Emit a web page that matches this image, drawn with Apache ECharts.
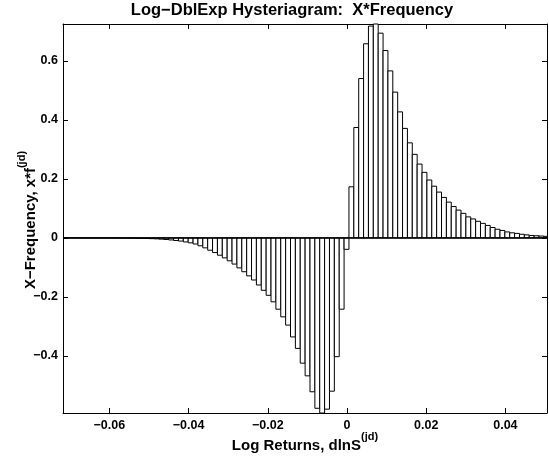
<!DOCTYPE html>
<html>
<head>
<meta charset="utf-8">
<script src="https://cdn.jsdelivr.net/npm/echarts@6/dist/echarts.min.js"></script>
<style>
html,body{margin:0;padding:0;background:#fff;}
#chart{width:549px;height:457px;}
</style>
</head>
<body>
<div id="chart"></div>
<script>
// ---- data ----
const titleText = 'Log\u2212DblExp Hysteriagram:  X*Frequency';
const xName = 'Log Returns, dlnS';
const yName = 'X\u2212Frequency, x*f';
const nameSup = '(jd)';
const xTicks = [-0.06, -0.04, -0.02, 0, 0.02, 0.04];
const yTicks = [-0.4, -0.2, 0, 0.2, 0.4, 0.6];
const xRange = [-0.0717, 0.0505];
const yRange = [-0.594, 0.725];
const firstEdge = -0.07207;   // left edge of first histogram bin
const binWidth = 0.00123;     // histogram bin width
// bin values, left to right
const negValues = [
  -0.0001, -0.0001, -0.0001, -0.0002, -0.0002, -0.0002, -0.0003, -0.0003, -0.0004, -0.0005,
  -0.0006, -0.0007, -0.0009, -0.0011, -0.0013, -0.0016, -0.0019, -0.0023, -0.0028, -0.0035,
  -0.0045, -0.0057, -0.0072, -0.009, -0.011, -0.014, -0.017, -0.021, -0.027, -0.034,
  -0.042, -0.050, -0.059, -0.068, -0.078, -0.089, -0.102, -0.115, -0.129, -0.143,
  -0.160, -0.178, -0.195, -0.217, -0.242, -0.268, -0.296, -0.336, -0.375, -0.425,
  -0.468, -0.522, -0.578, -0.615, -0.581, -0.520, -0.403, -0.242, -0.039
];
const posValues = [
  0.173, 0.374, 0.540, 0.658, 0.718, 0.760, 0.694, 0.635, 0.566, 0.494,
  0.427, 0.371, 0.322, 0.283, 0.250, 0.222, 0.196, 0.175, 0.155, 0.137,
  0.121, 0.106, 0.094, 0.083, 0.071, 0.064, 0.056, 0.049, 0.042, 0.035,
  0.029, 0.025, 0.020, 0.017, 0.015, 0.012, 0.010, 0.008, 0.007, 0.006, 0.005
];
// ---- build ----
const values = negValues.concat(posValues);
const bins = values.map((v, i) => [firstEdge + i * binWidth, firstEdge + (i + 1) * binWidth, v]);

const FONT = '"Liberation Sans", Arial, Helvetica, sans-serif';
const fmt = v => (v === 0 ? '0' : String(v).replace('-', '\u2212'));

const chart = echarts.init(document.getElementById('chart'), null, {renderer: 'canvas'});
const grid = {left: 63, right: 2, top: 24, bottom: 44};

function axisCommon() {
  return {
    axisLine: {show: true, onZero: false, lineStyle: {color: '#000', width: 1}},
    splitLine: {show: false},
  };
}

chart.setOption({
  animation: false,
  backgroundColor: '#fff',
  grid: grid,
  xAxis: [
    Object.assign(axisCommon(), {
      type: 'value', min: xRange[0], max: xRange[1], position: 'bottom',
      axisTick: {show: true, inside: true, length: 5, customValues: xTicks, lineStyle: {color: '#000'}},
      axisLabel: {customValues: xTicks, formatter: fmt, color: '#000', fontFamily: FONT, fontWeight: 'bold', fontSize: 12.5, margin: 6}
    }),
    Object.assign(axisCommon(), {
      type: 'value', min: xRange[0], max: xRange[1], position: 'top',
      axisTick: {show: true, inside: true, length: 5, customValues: xTicks, lineStyle: {color: '#000'}},
      axisLabel: {show: false}
    })
  ],
  yAxis: [
    Object.assign(axisCommon(), {
      type: 'value', min: yRange[0], max: yRange[1], position: 'left',
      axisTick: {show: true, inside: true, length: 5, customValues: yTicks, lineStyle: {color: '#000'}},
      axisLabel: {customValues: yTicks, formatter: fmt, color: '#000', fontFamily: FONT, fontWeight: 'bold', fontSize: 12.5, margin: 5}
    }),
    Object.assign(axisCommon(), {
      type: 'value', min: yRange[0], max: yRange[1], position: 'right',
      axisTick: {show: true, inside: true, length: 5, customValues: yTicks, lineStyle: {color: '#000'}},
      axisLabel: {show: false}
    })
  ],
  series: [{
    type: 'custom',
    xAxisIndex: 0, yAxisIndex: 0,
    data: bins,
    encode: {x: [0, 1], y: 2},
    renderItem: function (params, api) {
      const p0 = api.coord([api.value(0), 0]);
      const p1 = api.coord([api.value(1), api.value(2)]);
      const rect = {
        x: p0[0], y: Math.min(p0[1], p1[1]),
        width: p1[0] - p0[0], height: Math.abs(p1[1] - p0[1])
      };
      const cs = params.coordSys;
      const clipped = echarts.graphic.clipRectByRect(rect, {x: cs.x, y: cs.y, width: cs.width, height: cs.height});
      if (!clipped) return null;
      return {type: 'rect', shape: clipped, style: {fill: '#fff', stroke: '#000', lineWidth: 1}};
    },
    markLine: {
      silent: true, symbol: 'none', label: {show: false},
      lineStyle: {color: '#000', width: 1.5, type: 'solid'},
      data: [{yAxis: 0}]
    },
    z: 2
  }],
  graphic: [
    {
      type: 'text', x: 292, y: 10,
      style: {text: titleText, font: 'bold 16.5px ' + FONT, fill: '#000', align: 'center', verticalAlign: 'middle'}
    },
    {
      type: 'text', x: 305, y: 442,
      style: {
        text: '{m|' + xName + '}{s|' + nameSup + '}',
        align: 'center', verticalAlign: 'middle', fill: '#000',
        rich: {
          m: {font: 'bold 15px ' + FONT, fill: '#000', lineHeight: 22, verticalAlign: 'bottom'},
          s: {font: 'bold 11px ' + FONT, fill: '#000', lineHeight: 22, verticalAlign: 'top'}
        }
      }
    },
    {
      type: 'text', x: 27, y: 220, rotation: Math.PI / 2,
      style: {
        text: '{m|' + yName + '}{s|' + nameSup + '}',
        align: 'center', verticalAlign: 'middle', fill: '#000',
        rich: {
          m: {font: 'bold 15px ' + FONT, fill: '#000', lineHeight: 22, verticalAlign: 'bottom'},
          s: {font: 'bold 11px ' + FONT, fill: '#000', lineHeight: 22, verticalAlign: 'top'}
        }
      }
    }
  ]
});
</script>
</body>
</html>
